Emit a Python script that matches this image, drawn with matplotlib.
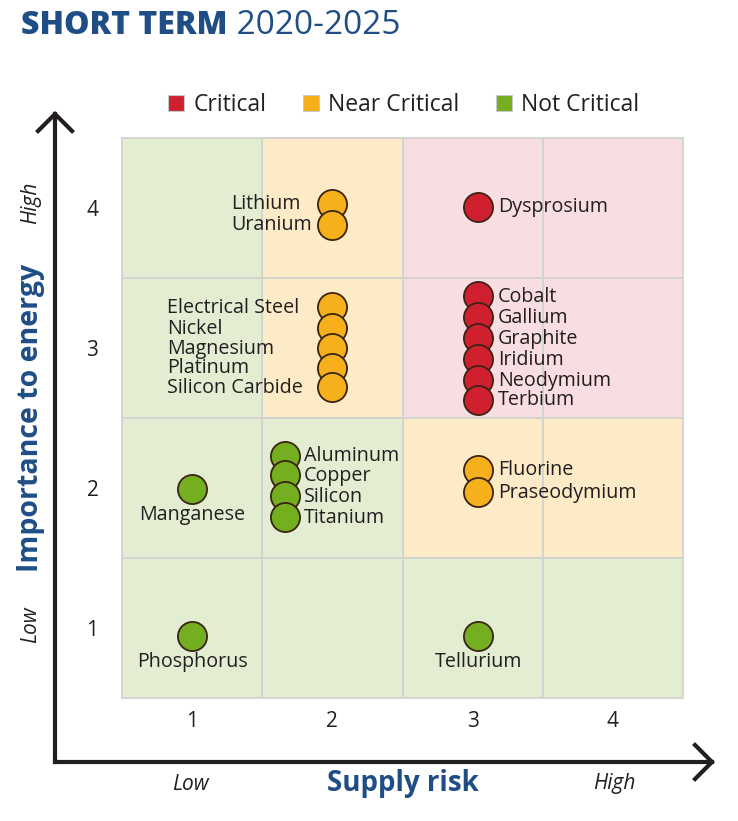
import matplotlib.pyplot as plt
import numpy as np
from matplotlib.colors import ListedColormap
from matplotlib.lines import Line2D

plt.rcParams['font.family'] = ['Open Sans', 'DejaVu Sans']

# Données
materials = ['Lithium', 'Uranium',
             'Electrical Steel', 'Nickel', 'Magnesium', 'Platinum', 'Silicon Carbide',
             'Dysprosium',
             'Cobalt', 'Gallium', 'Graphite', 'Iridium', 'Neodymium', 'Terbium',
             'Aluminum', 'Copper', 'Silicon', 'Titanium',
             'Manganese', 'Fluorine', 'Praseodymium',
             'Phosphorus', 'Tellurium']
supply_risk = [2.0, 2.0,
               2.0, 2.0, 2.0, 2.0, 2.0,
               3.04,
               3.04, 3.04, 3.04, 3.04, 3.04, 3.04,
               1.66, 1.66, 1.66, 1.66,
               1.0, 3.04, 3.04,
               1.0, 3.04]
importance = [4.03, 3.88,
              3.29, 3.14, 3.0, 2.86, 2.72,
              4.01,
              3.37, 3.22, 3.07, 2.92, 2.77, 2.63,
              2.23, 2.09, 1.94, 1.79,
              1.99, 2.13, 1.97,
              0.94, 0.94]
status = ['near', 'near',
          'near', 'near', 'near', 'near', 'near',
          'crit',
          'crit', 'crit', 'crit', 'crit', 'crit', 'crit',
          'not', 'not', 'not', 'not',
          'not', 'near', 'near',
          'not', 'not']

# fond des cases (lignes : importance 1 -> 4, colonnes : risque 1 -> 4)
# 0 = pas critique, 1 = presque critique, 2 = critique
zones = [[0, 0, 0, 0],
         [0, 0, 1, 1],
         [0, 1, 2, 2],
         [0, 1, 2, 2]]

ticks = [1, 2, 3, 4]
legend_labels = ['Critical', 'Near Critical', 'Not Critical']

# couleurs
marker_colors = {'crit': '#d0202f', 'near': '#f5b01b', 'not': '#73af1e'}
zone_colors = ['#e3edd1', '#fcebc6', '#f8dde1']
blue = '#1f4e87'
dark = '#231f20'

# placement des étiquettes
label_side = {}
for m in ['Lithium', 'Uranium']:
    label_side[m] = ('left', -73)
for m in ['Electrical Steel', 'Nickel', 'Magnesium', 'Platinum', 'Silicon Carbide']:
    label_side[m] = ('left', -119)
for m in ['Manganese', 'Phosphorus', 'Tellurium']:
    label_side[m] = ('below', 0)

fig = plt.figure(figsize=(7.38, 8.21), dpi=100)

# calque en pixels pour le titre, les flèches et les légendes d'axes
ov = fig.add_axes([0, 0, 1, 1])
ov.set_xlim(0, 738)
ov.set_ylim(821, 0)
ov.axis('off')

ax = fig.add_axes([122 / 738, 1 - 698 / 821, 561 / 738, 560 / 821])

edges = np.arange(0.5, 5.0, 1.0)
ax.pcolormesh(edges, edges, np.array(zones), cmap=ListedColormap(zone_colors),
              vmin=-0.5, vmax=2.5, edgecolor='#d3d3d0', linewidth=1.3)
ax.set_xlim(0.5, 4.5)
ax.set_ylim(0.5, 4.5)
for s in ax.spines.values():
    s.set_color('#d3d3d0')
    s.set_linewidth(1.3)
ax.set_xticks(ticks)
ax.set_yticks(ticks)
ax.set_xticklabels([str(t) for t in ticks], fontsize=15, color=dark)
ax.set_yticklabels([str(t) for t in ticks], fontsize=15, color=dark)
ax.tick_params(length=0, pad=9)
ax.tick_params(axis='y', pad=17)

colors = [marker_colors[s] for s in status]
# ordre de dessin : du haut vers le bas, pour que les cercles du bas recouvrent
order = np.argsort(-np.array(importance), kind='stable')
for i in order:
    ax.scatter(supply_risk[i], importance[i], s=440, color=colors[i],
               edgecolor='#3b2314', linewidth=1.3, zorder=3)

for name, x, y in zip(materials, supply_risk, importance):
    side, off = label_side.get(name, ('right', 14))
    if side == 'below':
        ax.annotate(name, (x, y), xytext=(0, -18.5), textcoords='offset points',
                    ha='center', va='center', fontsize=14.2, color=dark)
    else:
        ax.annotate(name, (x, y), xytext=(off, -0.5), textcoords='offset points',
                    ha='left', va='center', fontsize=14.2, color=dark)

# légende
handles = [Line2D([], [], marker='s', linestyle='none', markersize=11,
                  markerfacecolor=c, markeredgecolor='#c9c9c9', markeredgewidth=0.8)
           for c in [marker_colors['crit'], marker_colors['near'], marker_colors['not']]]
fig.legend(handles, legend_labels, loc='center', bbox_to_anchor=(402 / 738, 1 - 105 / 821),
           ncol=3, frameon=False, fontsize=16.5, handletextpad=0.25, columnspacing=1.45,
           labelcolor=dark, handlelength=1.0)

# titre
t1 = ov.text(21, 26, 'SHORT TERM', fontsize=23, fontweight='heavy', color=blue,
             ha='left', va='center')
ov.annotate(' 2020-2025', xy=(1, 0.5), xycoords=t1, ha='left', va='center',
            fontsize=24, fontweight='normal', color=blue)

# flèches des axes
lw = 3.0
ov.plot([55, 55], [762, 114], color=dark, lw=lw, solid_capstyle='projecting')
ov.plot([38, 55, 72], [131, 114, 131], color=dark, lw=lw, solid_joinstyle='miter')
ov.plot([55, 712], [762, 762], color=dark, lw=lw, solid_capstyle='projecting')
ov.plot([695, 712, 695], [745, 762, 779], color=dark, lw=lw, solid_joinstyle='miter')

# titres des axes
ov.text(403, 784, 'Supply risk', fontsize=20, fontweight='bold', color=blue,
        ha='center', va='center')
ov.text(190, 784, 'Low', fontsize=15, style='italic', color=dark,
        ha='center', va='center')
ov.text(614, 784, 'High', fontsize=15, style='italic', color=dark,
        ha='center', va='center')
ov.text(31, 418, 'Importance to energy', fontsize=20.5, fontweight='bold', color=blue,
        ha='center', va='center', rotation=90)
ov.text(31, 203, 'High', fontsize=15, style='italic', color=dark,
        ha='center', va='center', rotation=90)
ov.text(31, 625, 'Low', fontsize=15, style='italic', color=dark,
        ha='center', va='center', rotation=90)

fig.savefig('out.png', dpi=100)
